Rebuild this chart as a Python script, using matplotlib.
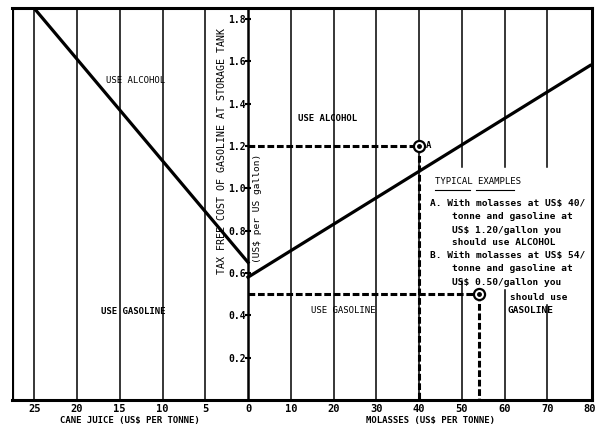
import matplotlib
matplotlib.use('Agg')
import matplotlib.pyplot as plt

# break-even lines (cost of gasoline vs feedstock price)
cane_price = [25, 0]
cane_cost = [1.85, 0.65]
molasses_price = [0, 80]
molasses_cost = [0.58, 1.58]

# worked examples
ex_molasses = [40, 54]
ex_gasoline = [1.2, 0.5]

cane_ticks = [25, 20, 15, 10, 5, 0]
molasses_ticks = [10, 20, 30, 40, 50, 60, 70, 80]
y_ticks = [0.2, 0.4, 0.6, 0.8, 1.0, 1.2, 1.4, 1.6, 1.8]

# cane juice axis is drawn at twice the molasses scale
def cane_pos(c):
    return -2 * c

font = 'DejaVu Sans Mono'
plt.rcParams['font.family'] = font

fig = plt.figure(figsize=(6, 4.29), dpi=100)
ax = fig.add_axes([0.02, 0.0676, 0.967, 0.913])
ax.set_xlim(-55.2, 80.5)
ax.set_ylim(0, 1.85)

# vertical grid lines
for c in cane_ticks[:-1]:
    ax.axvline(cane_pos(c), color='black', lw=1.1)
gaps = {50: (0.56, 1.10), 60: (0.52, 1.10), 70: (0.45, 1.10)}
for m in molasses_ticks[:-1]:
    if m in gaps:
        lo, hi = gaps[m]
        ax.plot([m, m], [0, lo], color='black', lw=1.1)
        ax.plot([m, m], [hi, 1.85], color='black', lw=1.1)
    else:
        ax.axvline(m, color='black', lw=1.1)

# y axis in the middle
ax.spines['left'].set_position(('data', 0))
ax.spines['left'].set_linewidth(1.8)
ax.axvline(-55.2, color='black', lw=3)
for s in ['top', 'right', 'bottom']:
    ax.spines[s].set_linewidth(2.2)

# break-even lines
ax.plot([cane_pos(c) for c in cane_price], cane_cost, color='black', lw=2.3)
ax.plot(molasses_price, molasses_cost, color='black', lw=2.3)

# examples: dashed guides and circled points
for m, g in zip(ex_molasses, ex_gasoline):
    ax.plot([0, m], [g, g], color='black', lw=2.2, ls=(0, (2.2, 0.9)))
    ax.plot([m, m], [g, 0], color='black', lw=2.2, ls=(0, (2.2, 0.9)))
    ax.plot(m, g, 'o', ms=8, mfc='white', mec='black', mew=1.6)
    ax.plot(m, g, 'o', ms=2.5, color='black')
ax.text(ex_molasses[0] + 1.6, ex_gasoline[0], 'A', fontsize=6.5, fontweight='bold', va='center')

# ticks
ax.set_xticks([cane_pos(c) for c in cane_ticks] + molasses_ticks)
ax.set_xticklabels([str(c) for c in cane_ticks] + [str(m) for m in molasses_ticks],
                   fontsize=7.5, fontweight='bold')
ax.tick_params(axis='x', length=0, pad=3)
ax.set_yticks(y_ticks)
ax.set_yticklabels([f'{v:.1f}' for v in y_ticks], fontsize=7, fontweight='bold')
ax.tick_params(axis='y', direction='inout', length=5, width=1.5, pad=-1)

# axis titles
ax.text(-6.0, 1.175, 'TAX FREE COST OF GASOLINE AT STORAGE TANK', rotation=90,
        fontsize=7.2, ha='center', va='center')
ax.text(2.3, 0.905, '(US$ per US gallon)', rotation=90, fontsize=6.8, ha='center', va='center')
fig.text(130 / 600, 1 - 420 / 429, 'CANE JUICE (US$ PER TONNE)', fontsize=6.5,
         fontweight='bold', ha='center', va='center')
fig.text(430 / 600, 1 - 420 / 429, 'MOLASSES (US$ PER TONNE)', fontsize=6.5,
         fontweight='bold', ha='center', va='center')

# region labels
ax.text(-26.4, 1.51, 'USE ALCOHOL', fontsize=6.5, ha='center', va='center')
ax.text(18.7, 1.33, 'USE ALCOHOL', fontsize=6.5, fontweight='bold', ha='center', va='center')
ax.text(-26.9, 0.42, 'USE GASOLINE', fontsize=6.5, fontweight='bold', ha='center', va='center')
ax.text(22.2, 0.425, 'USE GASOLINE', fontsize=6.5, ha='center', va='center')

# typical examples box
ax.text(43.7, 1.033, 'TYPICAL EXAMPLES', fontsize=6.5, va='center')
ax.plot([43.7, 52.0], [0.99, 0.99], color='black', lw=0.8)
ax.plot([53.3, 62.2], [0.99, 0.99], color='black', lw=0.8)
lines = [
    (42.6, 0.929, 'A. With molasses at US$ 40/'),
    (47.7, 0.868, 'tonne and gasoline at'),
    (47.7, 0.802, 'US$ 1.20/gallon you'),
    (47.7, 0.745, 'should use ALCOHOL'),
    (42.6, 0.684, 'B. With molasses at US$ 54/'),
    (47.7, 0.623, 'tonne and gasoline at'),
    (47.7, 0.557, 'US$ 0.50/gallon you'),
    (61.3, 0.486, 'should use'),
    (60.8, 0.425, 'GASOLINE'),
]
for x, y, t in lines:
    ax.text(x, y, t, fontsize=6.8, fontweight='bold', va='center')

fig.savefig('out.png', dpi=100)
